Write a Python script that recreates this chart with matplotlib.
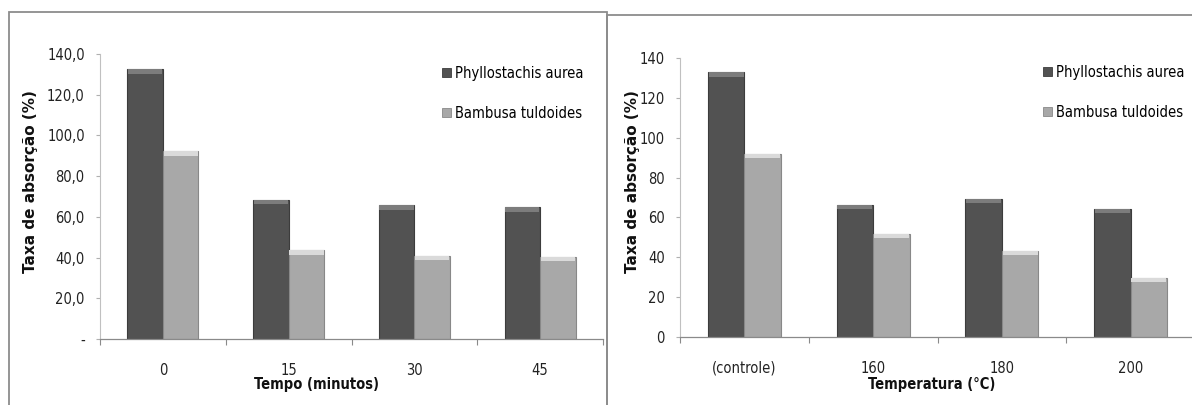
import numpy as np
import matplotlib
matplotlib.use("Agg")
import matplotlib.pyplot as plt
from matplotlib.patches import Rectangle, Patch
from matplotlib import font_manager

# absorption rate (%) per treatment, two bamboo species
species = ["Phyllostachis aurea", "Bambusa tuldoides"]

tempo_labels = ["0", "15", "30", "45"]
tempo_aurea = [132.6, 68.4, 65.8, 64.8]
tempo_tuldoides = [92.2, 43.6, 40.9, 40.4]

temp_labels = ["(controle)", "160", "180", "200"]
temp_aurea = [132.8, 66.2, 69.2, 64.2]
temp_tuldoides = [92.0, 51.7, 43.2, 29.7]

yticks_left = [0, 20, 40, 60, 80, 100, 120, 140]
yticklabels_left = ["-", "20,0", "40,0", "60,0", "80,0", "100,0", "120,0", "140,0"]
yticks_right = [0, 20, 40, 60, 80, 100, 120, 140]
yticklabels_right = ["0", "20", "40", "60", "80", "100", "120", "140"]

# pick a narrow face if one is around
names = {f.name: f for f in font_manager.fontManager.ttflist}
condensed = [f for f in font_manager.fontManager.ttflist
             if f.name == "DejaVu Sans" and "ondensed" in str(f.stretch)]
if "Liberation Sans Narrow" in names:
    NARROW = dict(fontfamily="Liberation Sans Narrow", fontstretch="normal", fontsize=11)
elif condensed:
    NARROW = dict(fontfamily="DejaVu Sans", fontstretch="condensed", fontsize=10.5)
else:
    NARROW = dict(fontfamily="Liberation Sans", fontstretch="normal", fontsize=9.5)

DARK = "#525252"
DARK_TOP = "#7c7c7c"
DARK_EDGE = "#3c3c3c"
LIGHT = "#a8a8a8"
LIGHT_TOP = "#dadada"
LIGHT_EDGE = "#888888"

W, H = 1192, 405
fig = plt.figure(figsize=(W / 100, H / 100), dpi=100)


def px(x0, y0, x1, y1):
    """pixel box (top-left origin) -> figure fraction rect"""
    return [x0 / W, 1 - y1 / H, (x1 - x0) / W, (y1 - y0) / H]


def panel(rect, cats, v1, v2, yt, ytl, xtitle, title_xy, ylab_x, leg_xy):
    ax = fig.add_axes(rect)
    n = len(cats)
    x = np.arange(n) + 0.5
    bw = 0.283
    bevel = 2.2
    for vals, off, c, ct, ce in [(v1, -bw / 2, DARK, DARK_TOP, DARK_EDGE),
                                 (v2, bw / 2, LIGHT, LIGHT_TOP, LIGHT_EDGE)]:
        vals = np.asarray(vals)
        ax.bar(x + off, vals, bw, color=c, edgecolor=ce, linewidth=0.8, zorder=2)
        ax.bar(x + off, np.full(n, bevel), bw * 0.96, bottom=vals - bevel,
               color=ct, linewidth=0, zorder=3)
    ax.set_xlim(0, n)
    ax.set_ylim(0, 140)
    ax.set_xticks(np.arange(n + 1))
    ax.set_xticklabels([])
    ax.set_xticks(x, minor=True)
    ax.set_xticklabels(cats, minor=True, color="#222222", **NARROW)
    ax.tick_params(axis="x", which="major", direction="out", length=4.5,
                   color="#8a8a8a", width=0.8)
    ax.tick_params(axis="x", which="minor", length=0, pad=17)
    ax.set_yticks(yt)
    ax.set_yticklabels(ytl, color="#222222", **NARROW)
    ax.tick_params(axis="y", direction="out", length=3, color="#b0b0b0",
                   width=0.8, pad=8)
    for s in ("top", "right"):
        ax.spines[s].set_visible(False)
    ax.spines["left"].set_color("#c0c0c0")
    ax.spines["left"].set_linewidth(0.8)
    ax.spines["bottom"].set_color("#8a8a8a")
    ax.spines["bottom"].set_linewidth(0.9)

    fig.text(title_xy[0] / W, 1 - title_xy[1] / H, xtitle, ha="center", va="center",
             fontweight="bold", color="#111111", **NARROW)
    fig.text(ylab_x / W, 1 - 182 / H, "Taxa de absorção (%)", rotation=90,
             ha="center", va="center", fontfamily="DejaVu Sans",
             fontweight="bold", fontsize=11, color="#111111")

    handles = [Patch(facecolor=DARK, edgecolor=DARK_EDGE, linewidth=0.6),
               Patch(facecolor=LIGHT, edgecolor=LIGHT_EDGE, linewidth=0.6)]
    ax.legend(handles, species, loc="upper left",
              bbox_to_anchor=(leg_xy[0] / W, 1 - leg_xy[1] / H),
              bbox_transform=fig.transFigure, frameon=False, borderpad=0,
              borderaxespad=0, handlelength=0.6, handleheight=0.6,
              handletextpad=0.3, labelspacing=1.7,
              prop={"family": NARROW["fontfamily"], "stretch": NARROW["fontstretch"],
                    "size": NARROW["fontsize"]})
    return ax


panel(px(100, 54, 603, 339), tempo_labels, tempo_aurea, tempo_tuldoides,
      yticks_left, yticklabels_left, "Tempo (minutos)", (317, 385), 31, (442, 66))
panel(px(680, 58, 1195, 337), temp_labels, temp_aurea, temp_tuldoides,
      yticks_right, yticklabels_right, "Temperatura (°C)", (932, 385), 632, (1043, 65))

# chart area borders
for x0, y0, x1, y1 in [(9, 12, 607, 430), (607, 15, 1210, 430)]:
    fig.add_artist(Rectangle((x0 / W, 1 - y1 / H), (x1 - x0) / W, (y1 - y0) / H,
                             transform=fig.transFigure, fill=False,
                             edgecolor="#8c8c8c", linewidth=1.3, clip_on=False))

fig.savefig("out.png", dpi=100)
